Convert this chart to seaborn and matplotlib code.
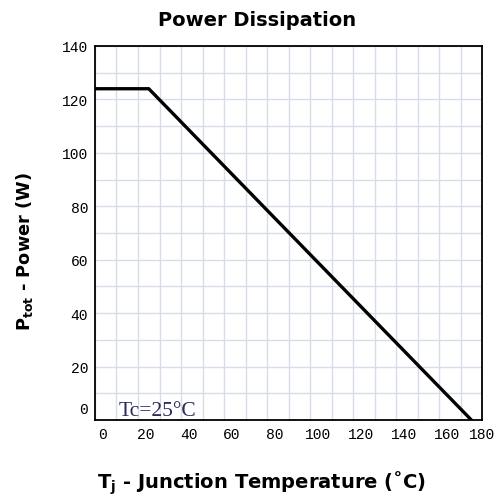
import matplotlib
matplotlib.use("Agg")
import matplotlib.pyplot as plt
import matplotlib.transforms as mtransforms
import seaborn as sns
import pandas as pd

# derating curve
temp_c = [0, 25, 175]
power_w = [124, 124, 0]
x_ticks = [0, 20, 40, 60, 80, 100, 120, 140, 160, 180]
y_ticks = [0, 20, 40, 60, 80, 100, 120, 140]

sns.set_style("white")
plt.rcParams['font.family'] = ['DejaVu Sans']
plt.rcParams['text.color'] = 'black'

df = pd.DataFrame({'Tj': temp_c, 'Ptot': power_w})

fig = plt.figure(figsize=(4.96, 5.02), dpi=100)
ax = fig.add_axes([0.1915, 0.1614, 0.7805, 0.745])

sns.lineplot(data=df, x='Tj', y='Ptot', color='black', linewidth=2.4, ax=ax)

ax.set_xlim(0, 180)
ax.set_ylim(0, 140)
ax.set_xticks(range(0, 181, 10), minor=True)
ax.set_yticks(range(0, 141, 10), minor=True)
ax.set_xticks(x_ticks)
ax.set_yticks(y_ticks)
ax.set_xticklabels([str(v) for v in x_ticks], family='Liberation Mono', fontsize=10.5, color='black')
ax.set_yticklabels([str(v) for v in y_ticks], family='Liberation Mono', fontsize=10.5, color='black')
ax.grid(True, which='both', color='#d6dce9', linewidth=1.0)
ax.set_axisbelow(True)
ax.tick_params(length=0, pad=5)
for s in ax.spines.values():
    s.set_color('black')
    s.set_linewidth(1.3)

# labels in the original sit a little off their ticks
xlabs = ax.get_xticklabels()
for i, lab in enumerate(xlabs):
    dx = 8 if i < len(xlabs) - 1 else 0  # last one would run off the edge
    off = mtransforms.ScaledTranslation(dx / 100, 0, fig.dpi_scale_trans)
    lab.set_transform(lab.get_transform() + off)
up = mtransforms.ScaledTranslation(0, 12 / 100, fig.dpi_scale_trans)
ylabs = ax.get_yticklabels()
ylabs[0].set_transform(ylabs[0].get_transform() + up)

ax.set_xlabel('')
ax.set_ylabel('')
ax.text(11.2, 2.0, 'Tc=25°C', family='Liberation Serif', fontsize=15.5, color='#2e2a5c')

fig.text(0.518, 0.96, 'Power Dissipation', ha='center', va='center',
         fontsize=14, fontweight='bold')
fig.text(0.528, 0.038, r'T$_\mathbf{j}$ - Junction Temperature (˚C)', ha='center', va='center',
         fontsize=14, fontweight='bold')
fig.text(0.05, 0.498, r'P$_\mathbf{tot}$ - Power (W)', ha='center', va='center',
         rotation=90, fontsize=12.8, fontweight='bold')

fig.savefig('out.png', dpi=100)
